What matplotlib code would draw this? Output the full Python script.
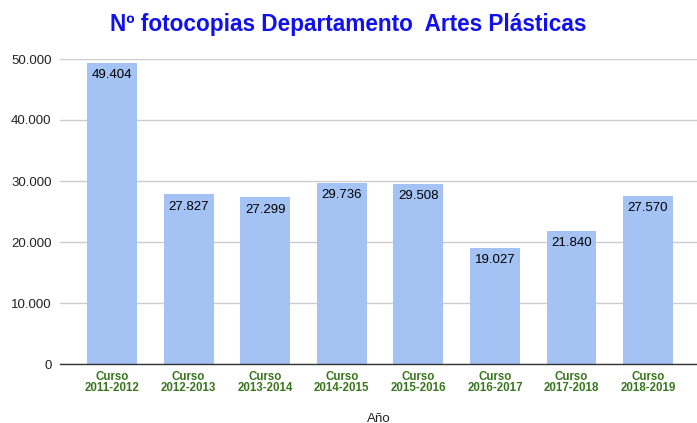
import matplotlib
matplotlib.use("Agg")
import matplotlib.pyplot as plt
from matplotlib.ticker import FuncFormatter

categories = ["Curso\n2011-2012", "Curso\n2012-2013", "Curso\n2013-2014", "Curso\n2014-2015",
              "Curso\n2015-2016", "Curso\n2016-2017", "Curso\n2017-2018", "Curso\n2018-2019"]
values = [49404, 27827, 27299, 29736, 29508, 19027, 21840, 27570]
yticks = [0, 10000, 20000, 30000, 40000, 50000]

plt.rcParams['font.family'] = ['Liberation Sans', 'DejaVu Sans']

fig = plt.figure(figsize=(6.97, 4.23), dpi=100)
ax = fig.add_axes([60/697, 1-364/423, 1-60/697, (364-59)/423])

x = list(range(len(values)))
bars = ax.bar(x, values, width=0.65, color="#a4c2f4", zorder=2)

def fmt(v):
    return f"{int(v):,}".replace(",", ".")

for xi, v in zip(x, values):
    ax.annotate(fmt(v), (xi, v), xytext=(0, -4.5), textcoords="offset points",
                ha="center", va="top", fontsize=9.5, color="#000000", zorder=3)

ax.set_xlim(-0.68, 7.64)
ax.set_ylim(0, 50000)
ax.set_yticks(yticks)
ax.yaxis.set_major_formatter(FuncFormatter(lambda v, p: fmt(v)))
ax.grid(axis="y", color="#cccccc", linewidth=1, zorder=0)
ax.set_xticks(x)
ax.set_xticklabels(categories, fontsize=8.3, fontweight="bold", color="#38761d", linespacing=0.95)
for s in ["top", "right", "left"]:
    ax.spines[s].set_visible(False)
ax.spines["bottom"].set_color("#333333")
ax.spines["bottom"].set_linewidth(1)
ax.tick_params(axis="both", length=0)
ax.tick_params(axis="y", labelsize=9.5, labelcolor="#222222", pad=6)
ax.tick_params(axis="x", pad=5)
ax.set_xlabel("Año", fontsize=9.5, color="#222222", labelpad=13)

fig.text(0.5, 1-25/423, "Nº fotocopias Departamento  Artes Plásticas", ha="center", va="center",
         fontsize=16.3, fontweight="bold", color="#1010f0")

fig.savefig("out.png", dpi=100)
